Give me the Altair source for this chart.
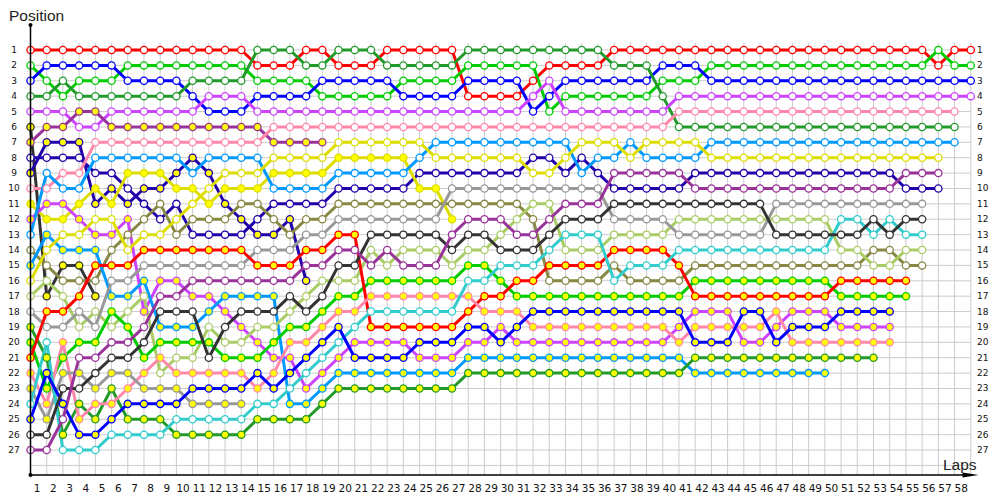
import altair as alt
import pandas as pd

# ---------------- data ----------------
lap_labels = list(range(1, 59))
pos_labels = list(range(1, 28))
grid_laps = list(range(0, 59))
grid_pos = list(range(1, 29))

drivers = ["red", "green", "blue", "dkgreen", "violet", "blackY", "purpleY", "dkblueW",
           "dkblueY", "pink", "yellowY", "violetY", "lblueW", "olive", "lblueY", "yellowW",
           "lightolive", "gray", "dkgreenY", "greenY", "redY", "pinkY", "grayY", "cyan",
           "blueY", "black", "purple"]
line_colors = ["#ff0000", "#00cc00", "#0000ff", "#229a2a", "#cc44ff", "#333333", "#993399", "#2200aa",
               "#2200aa", "#ff88aa", "#dddd00", "#cc44ff", "#0099ff", "#888844", "#0099ff", "#dddd00",
               "#aacc66", "#999999", "#229a2a", "#00cc00", "#ff0000", "#ff88aa", "#999999", "#33cccc",
               "#0000ff", "#333333", "#993399"]
fill_colors = ["#ffffff", "#ffffff", "#ffffff", "#ffffff", "#ffffff", "#ffff00", "#ffff00", "#ffffff",
               "#ffff00", "#ffffff", "#ffff00", "#ffff00", "#ffffff", "#ffffff", "#ffff00", "#ffffff",
               "#ffffff", "#ffffff", "#ffff00", "#ffff00", "#ffff00", "#ffff00", "#ffff00", "#ffffff",
               "#ffff00", "#ffffff", "#ffffff"]

red = [1,1,1,1,1,1,1,1,1,1,1,1,1,1, 2,2,2, 1,1, 2,2,2, 1,1,1,1,1, 4,4,4,4, 3, 2,2,2,2,
       1,1,1,1,1,1,1,1,1,1,1,1,1,1,1,1,1,1,1,1, 2, 1,1]
green = [2,3,4,3,3,3, 2,2,2,2,2,2,2,2, 3,3,3,3, 4,4,4,4,4, 3,3,3,3, 2,2,2,2,2, 5, 4,4,4,4,4,4,
         3,3,3, 2,2,2,2,2,2,2,2,2,2,2,2,2,2, 1, 2,2]
blue = [3,2,2,2,2,2,3,3,3,3,4,5,5,5, 4,4,4,4, 3,3,3,3,3, 4,4,4,4, 3,3,3,3, 5, 4, 3,3,3,3,3,3,
        2,2,2, 3,3,3,3,3,3,3,3,3,3,3,3,3,3,3,3,3]
dkgreen = [4,4,3,4,4,4,4,4,4,4,3,3,3,3, 1,1,1, 2,2, 1,1,1, 2,2,2,2,2, 1,1,1,1,1,1,1,1,1,
           2,2,2, 4, 6,6,6,6,6,6,6,6,6,6,6,6,6,6,6,6,6,6]
violet = [5,5,5,6,6,5,5,5,5,5,5,4,4,4, 5,5,5,5,5,5,5,5,5,5,5,5,5,5,5,5,5, 4, 3, 5,5,5,5,5,5,5,
          4,4,4,4,4,4,4,4,4,4,4,4,4,4,4,4,4,4,4]
blackY = [6,17,15,15,17]
purpleY = [7,6,6,5,5,6,6,6,6,6,6,6,6,6,6, 7,7,7,7]
dkblueW = [8,8,8,8,9,9,10,11,12,11,13,13,13,13, 12, 11,11,11,11, 10,10,10,10,10, 9,9,9,9,9,9,9,
           8,8, 9, 8, 9, 10,10,10,10,10, 9,9,9,9,9,9,9,9,9,9,9,9,9, 10,10,10]
dkblueY = [9,7,7,7,11,10,11,10,10,9,8,9,11,12,13,13,12,16]
pink = [10,10,9,9,7,7,7,7,7,7,7,7,7,7,7, 6,6,6,6,6,6,6,6,6,6,6,6,6,6,6,6,6,6,6,6,6,6,6,6,6,
        5,5,5,5,5,5,5,5,5,5,5,5,5,5,5,5,5,5]
yellowY = [11,12,12,11,10,11,9,9,9,10,10,11,10,10,10, 9,9,9,9, 8,8,8,8,8, 10,10, 12]
violetY = [12,11,11,12,13,13,12,18,16,16,17,17,18,19, 20, 21,21, 23, 22, 21, 20,20,20,20,
           21,21,21, 20,20, 19, 20,20,20,20,20,20,20,20,20,20, 19, 18,18,18, 20,20, 19,
           18,18,18, 19,19,19,19]
lblueW = [13,9,10,10,8,8,8,8,8,8,9,8,8,8,8, 10,10,10,10, 9,9,9,9,9, 8, 7,7,7,7,7,7,7,7,7,
          9, 8,8, 7, 8,8,8,8, 7,7,7,7,7,7,7,7,7,7,7,7,7,7,7,7]
olive = [14,15,16,16,16,14,13,12,11,13,12,12,12,11,11, 12, 13, 12,12, 11,11,11,11,11,11,11,11,
         11,11,11,11, 12, 16,16,16,16, 15, 16,16,16,16, 15,15,15,15,15,15,15,15,15,15,15,
         14,14, 15,15]
lblueY = [15,13,14,14,14,17,17,16,19,19,19,18,17,17,17,17, 24,24, 23, 22,22,22,22,22,22,22,22,
          21,21,21,21,21,21,21,21,21,21,21,21,21,21, 22,22,22,22,22,22,22,22,22]
yellowW = [16,14,13,13,12,12,14,13,13,12,11,10,9,9,9, 8,8,8,8, 7,7,7,7,7,7, 8,8,8,8,8,8, 9,9,
           8, 7,7,7, 8, 7,7,7,7, 8,8,8,8,8,8,8,8,8,8,8,8,8,8,8]
lightolive = [17,16,17,19,18,19,18,17,22,21,21,19,20,20, 19,19, 18, 17, 16,16,16, 14, 15,
              14,14,14, 15, 14,14, 13, 12, 11,11, 14,14,14, 13,13,13,13,
              12,12,12,12,12,12,12,12,12,12, 14,14, 15,15, 14,14]
gray = [18,19,19,18,19,16,16,15,15,15,15,15,15,15, 14,14,14, 13,13, 12,12,12,12,12,12,12,
        10,10,10,10,10,10,10,10,10,10, 12,12,12,12, 13,13,13,13,13,13,
        11,11,11,11,11,11,11,11,11,11]
dkgreenY = [19,21,26,24,25,23,25,25,25,26,26,26,26,26, 25,25,25,25, 24, 23,23,23,23,23,23,23,23,
            22,22,22,22,22,22,22,22,22,22,22,22,22,22, 21,21,21,21,21,21,21,21,21,21,21,21]
greenY = [20,23,21,20,20,18,19,21,20,20,20,20,21,21,21, 20, 19,19, 18, 17,17, 16,16,16,16,16,16,
          15,15, 16, 17,17,17,17,17,17,17,17,17,17,17, 16,16,16,16,16,16,16,16,16,
          17,17,17,17,17]
redY = [21,18,18,17,15,15,15,14,14,14,14,14,14,14, 15,15,15, 14,14, 13,13, 19,19,19,19,19,19,
        18, 17,17, 16,16, 15,15,15,15, 14,14,14,14, 15, 17,17,17,17,17,17,17,17,17,
        16,16,16,16,16]
pinkY = [22,24,20,25,24,24,23,22,21,22,22,22,22,22, 23, 22, 20,20, 19, 18,18,
         17,17,17,17,17,17,17, 18,18,18, 19,19,19,19,19,19,19,19,19, 20, 19,19,19,19,19, 18,
         20,20,20,20,20,20,20]
grayY = [23,25,22,22,23,22,22,23,23,23,24,24,24,24]
cyan = [24,20,27,27,27,26,26,26,26,25,25,25,25,25, 24,24, 23, 22, 21, 20, 19, 18,18,18,18,18,18,
        16,16, 15,15,15, 14, 13,13,13, 16, 15,15,15, 14,14,14,14,14,14,14,14,14,14,
        12,12, 13, 12, 13,13]
blueY = [25,22,24,26,26,25,24,24,24,24,23,23,23,23, 22, 23, 22, 21, 20, 19, 21,21,21,21,
         20,20,20, 19,19, 20, 19, 18,18,18,18,18,18,18,18,18,18, 20,20,20, 18,18, 20,
         19,19,19, 18,18,18,18]
black = [26,26,23,23,22,21,21,20,18,18,18,21,19,18, 18,18, 17, 18, 17, 15,15, 13,13,13,13,13,
         14, 13,13, 14,14,14, 13, 12,12,12, 11,11,11,11,11,11,11,11,11,11,
         13,13,13,13,13,13, 12, 13, 12,12]
purple = [27,27,25,21,21,20,20,19,17,17,16,16,16,16, 16,16,16, 15,15, 14,14, 15, 14, 15,15,15,
          13, 12,12,12, 13,13, 12, 11,11,11, 9,9,9,9,9, 10,10,10,10,10,10,10,10,10,10,10,10,10,
          9,9,9]

series = [red, green, blue, dkgreen, violet, blackY, purpleY, dkblueW, dkblueY, pink, yellowY,
          violetY, lblueW, olive, lblueY, yellowW, lightolive, gray, dkgreenY, greenY, redY,
          pinkY, grayY, cyan, blueY, black, purple]

rows = []
for i, (name, seq) in enumerate(zip(drivers, series)):
    for lap, pos in enumerate(seq):
        rows.append({"driver": name, "lap": lap, "pos": pos, "fillc": fill_colors[i], "k": i})
df = pd.DataFrame(rows)

# ---------------- geometry ----------------
W, H = 950, 450
xs = alt.Scale(domain=[0, 58.6], nice=False, zero=False)
ys = alt.Scale(domain=[-0.6255, 28.623], nice=False, zero=False, reverse=True)
X = lambda f, t="Q": alt.X(f"{f}:{t}", scale=xs, axis=None)
Y = lambda f, t="Q": alt.Y(f"{f}:{t}", scale=ys, axis=None)
col_scale = alt.Scale(domain=drivers, range=line_colors)
one = alt.Data(values=[{"a": 1}])
GRID = "#cccccc"

vgrid = alt.Chart(pd.DataFrame({"lap": grid_laps})).mark_rule(color=GRID, strokeWidth=1).encode(
    x=X("lap"), y=alt.Y(datum=0.55, scale=ys, axis=None), y2=alt.value(H))
hgrid = alt.Chart(pd.DataFrame({"pos": grid_pos})).mark_rule(color=GRID, strokeWidth=1).encode(
    y=Y("pos"),
    x=alt.X(datum=grid_laps[0], scale=xs, axis=None),
    x2=alt.X2(datum=grid_laps[-1]))

lines = alt.Chart(df).mark_line(strokeWidth=3, strokeJoin="round").encode(
    x=X("lap"), y=Y("pos"),
    color=alt.Color("driver:N", scale=col_scale, legend=None),
    detail="k:N", order="lap:Q")
points = alt.Chart(df).mark_circle(size=52, strokeWidth=1.3, opacity=1).encode(
    x=X("lap"), y=Y("pos"),
    fill=alt.Fill("fillc:N", scale=None, legend=None),
    stroke=alt.Stroke("driver:N", scale=col_scale, legend=None))

left_axis = alt.Chart(one).mark_rule(color="black", strokeWidth=1.5).encode(
    x=alt.value(0), y=alt.value(0), y2=alt.value(H))
bottom_axis = alt.Chart(one).mark_rule(color="black", strokeWidth=1.5).encode(
    x=alt.value(0), x2=alt.value(W - 12), y=alt.value(H))
dot_top = alt.Chart(one).mark_circle(size=16, color="black", opacity=1).encode(
    x=alt.value(0), y=alt.value(0))
dot_bottom = alt.Chart(one).mark_circle(size=16, color="black", opacity=1).encode(
    x=alt.value(0), y=alt.value(H))
arrow = alt.Chart(one).mark_point(shape="M-1,-0.32L1,0L-1,0.32Z", size=256, filled=True,
                                  color="black", opacity=1).encode(
    x=alt.value(W - 10), y=alt.value(H))

left_labels = alt.Chart(pd.DataFrame({"pos": pos_labels})).mark_text(
    font="DejaVu Sans", fontSize=9, align="center", baseline="middle", color="#111").encode(
    x=alt.value(-16.5), y=Y("pos"), text="pos:Q")
right_labels = alt.Chart(pd.DataFrame({"pos": pos_labels})).mark_text(
    font="DejaVu Sans", fontSize=9, align="left", baseline="middle", color="#111").encode(
    x=alt.value(946.5), y=Y("pos"), text="pos:Q")
bottom_labels = alt.Chart(pd.DataFrame({"lap": lap_labels})).mark_text(
    font="DejaVu Sans", fontSize=10.5, align="center", baseline="middle", dx=-9.5,
    color="#111").encode(
    x=X("lap"), y=alt.value(H + 14), text="lap:Q")

title_pos = alt.Chart(one).mark_text(font="Liberation Sans", fontSize=15.5, align="left",
                                     baseline="alphabetic", color="#222", text="Position").encode(
    x=alt.value(-21.5), y=alt.value(-4.3))
title_laps = alt.Chart(one).mark_text(font="Liberation Sans", fontSize=15.5, align="left",
                                      baseline="alphabetic", color="#222", text="Laps").encode(
    x=alt.value(912.5), y=alt.value(445))

chart = alt.layer(
    vgrid, hgrid, lines, points, left_axis, bottom_axis, dot_top, dot_bottom, arrow,
    left_labels, right_labels, bottom_labels, title_pos, title_laps
).properties(
    width=W, height=H,
    autosize=alt.AutoSizeParams(type="none"),
    padding={"left": 22.5, "top": 17, "right": 11.5, "bottom": 21},
).configure_view(stroke=None)

chart.save("out.html", embed_options={"renderer": "svg", "actions": False})
